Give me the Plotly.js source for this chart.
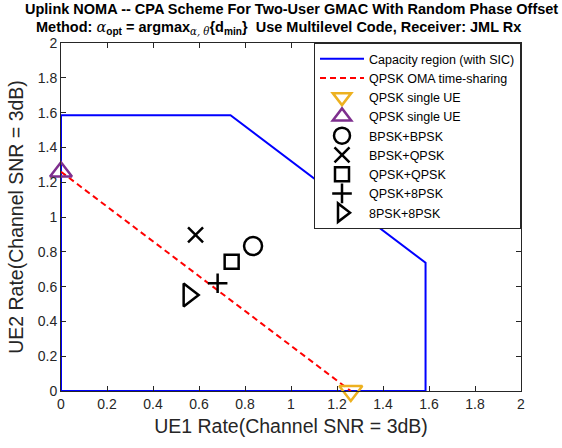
<!DOCTYPE html>
<html>
<head>
<meta charset="utf-8">
<script src="https://cdn.plot.ly/plotly-3.0.1.min.js"></script>
<style>html,body{margin:0;padding:0;background:#fff}#chart{width:562px;height:448px}</style>
</head>
<body>
<div id="chart"></div>
<script>
// Capacity region (with SIC) polygon vertices
const capX = [0, 0, 0.737, 1.585, 1.585, 0];
const capY = [0, 1.585, 1.585, 0.737, 0, 0];
// QPSK OMA time-sharing
const omaX = [0, 1.26];
const omaY = [1.26, 0];
// QPSK single UE points
const singleUE1 = {x: [1.26], y: [0]};
const singleUE2 = {x: [0], y: [1.26]};
// Multilevel code pairs
const pairNames = ["BPSK+BPSK", "BPSK+QPSK", "QPSK+QPSK", "QPSK+8PSK", "8PSK+8PSK"];
const pairX = [0.835, 0.585, 0.742, 0.681, 0.555];
const pairY = [0.833, 0.897, 0.743, 0.619, 0.552];
const pairSymbols = ["circle-open", "x-thin-open", "square-open", "cross-thin-open", "triangle-right-open"];
const pairSizes = [18, 15, 14, 14, 20];

const xTicks = [0, 0.2, 0.4, 0.6, 0.8, 1, 1.2, 1.4, 1.6, 1.8, 2];
const yTicks = [0, 0.2, 0.4, 0.6, 0.8, 1, 1.2, 1.4, 1.6, 1.8, 2];

const titleLine1 = "<b>Uplink NOMA -- CPA Scheme For Two-User GMAC With Random Phase Offset</b>";
const titleLine2 = "<b>Method: </b><span style='font-family:DejaVu Serif'><i>α</i></span><b><sub>opt</sub> = argmax</b><sub><span style='font-family:DejaVu Serif'><i>α, θ</i></span></sub><b>{d<sub>min</sub>}\u00a0\u00a0Use Multilevel Code, Receiver: JML Rx</b>";

const FONT = "Liberation Sans, Arial, Helvetica, sans-serif";

const traces = [
  {x: capX, y: capY, mode: "lines", name: "Capacity region (with SIC)", cliponaxis: false,
   line: {color: "#0000FF", width: 2}},
  {x: omaX, y: omaY, mode: "lines", name: "QPSK OMA time-sharing", cliponaxis: false,
   line: {color: "#FF0000", width: 2, dash: "6px,4px"}},
  {x: singleUE1.x, y: singleUE1.y, mode: "markers", name: "QPSK single UE", cliponaxis: false,
   marker: {symbol: "triangle-down-open", size: 20, color: "#EDB120", line: {width: 2.5, color: "#EDB120"}}},
  {x: singleUE2.x, y: singleUE2.y, mode: "markers", name: "QPSK single UE", cliponaxis: false,
   marker: {symbol: "triangle-up-open", size: 19, color: "#7E2F8E", line: {width: 2.5, color: "#7E2F8E"}}}
];
for (let i = 0; i < pairNames.length; i++) {
  traces.push({x: [pairX[i]], y: [pairY[i]], mode: "markers", name: pairNames[i], cliponaxis: false,
    marker: {symbol: pairSymbols[i], size: pairSizes[i], color: "#000000", line: {width: 2.5, color: "#000000"}}});
}

const axisCommon = {
  showline: true, linecolor: "#262626", linewidth: 1, mirror: "ticks",
  ticks: "inside", ticklen: 5, tickcolor: "#262626", tickwidth: 1,
  showgrid: false, zeroline: false,
  tickfont: {family: FONT, size: 14, color: "#262626"}
};

const layout = {
  width: 562, height: 448,
  margin: {l: 61, r: 41, t: 43, b: 57},
  paper_bgcolor: "#ffffff", plot_bgcolor: "#ffffff",
  font: {family: FONT, color: "#000000"},
  annotations: [
    {text: titleLine1, xref: "paper", yref: "paper", x: 0.5, y: 1.0977,
     xanchor: "center", yanchor: "middle", showarrow: false,
     font: {family: FONT, size: 14.5, color: "#000000"}},
    {text: titleLine2, xref: "paper", yref: "paper", x: 0.472, y: 1.043,
     xanchor: "center", yanchor: "middle", showarrow: false,
     font: {family: FONT, size: 14.5, color: "#000000"}}
  ],
  xaxis: Object.assign({}, axisCommon, {
    range: [0, 2], tickvals: xTicks, ticktext: xTicks.map(String),
    title: {text: "UE1 Rate(Channel SNR = 3dB)", font: {family: FONT, size: 19.5, color: "#262626"}, standoff: 8}
  }),
  yaxis: Object.assign({}, axisCommon, {
    range: [0, 2], tickvals: yTicks, ticktext: yTicks.map(String),
    title: {text: "UE2 Rate(Channel SNR = 3dB)", font: {family: FONT, size: 19.5, color: "#262626"}, standoff: 8}
  }),
  showlegend: true,
  legend: {
    x: 1, xanchor: "right", y: 1, yanchor: "top",
    bgcolor: "#ffffff", bordercolor: "#262626", borderwidth: 1,
    font: {family: FONT, size: 12.5, color: "#000000"},
    itemwidth: 44, tracegroupgap: 0
  }
};

Plotly.newPlot("chart", traces, layout, {displayModeBar: false, staticPlot: true});
</script>
</body>
</html>
